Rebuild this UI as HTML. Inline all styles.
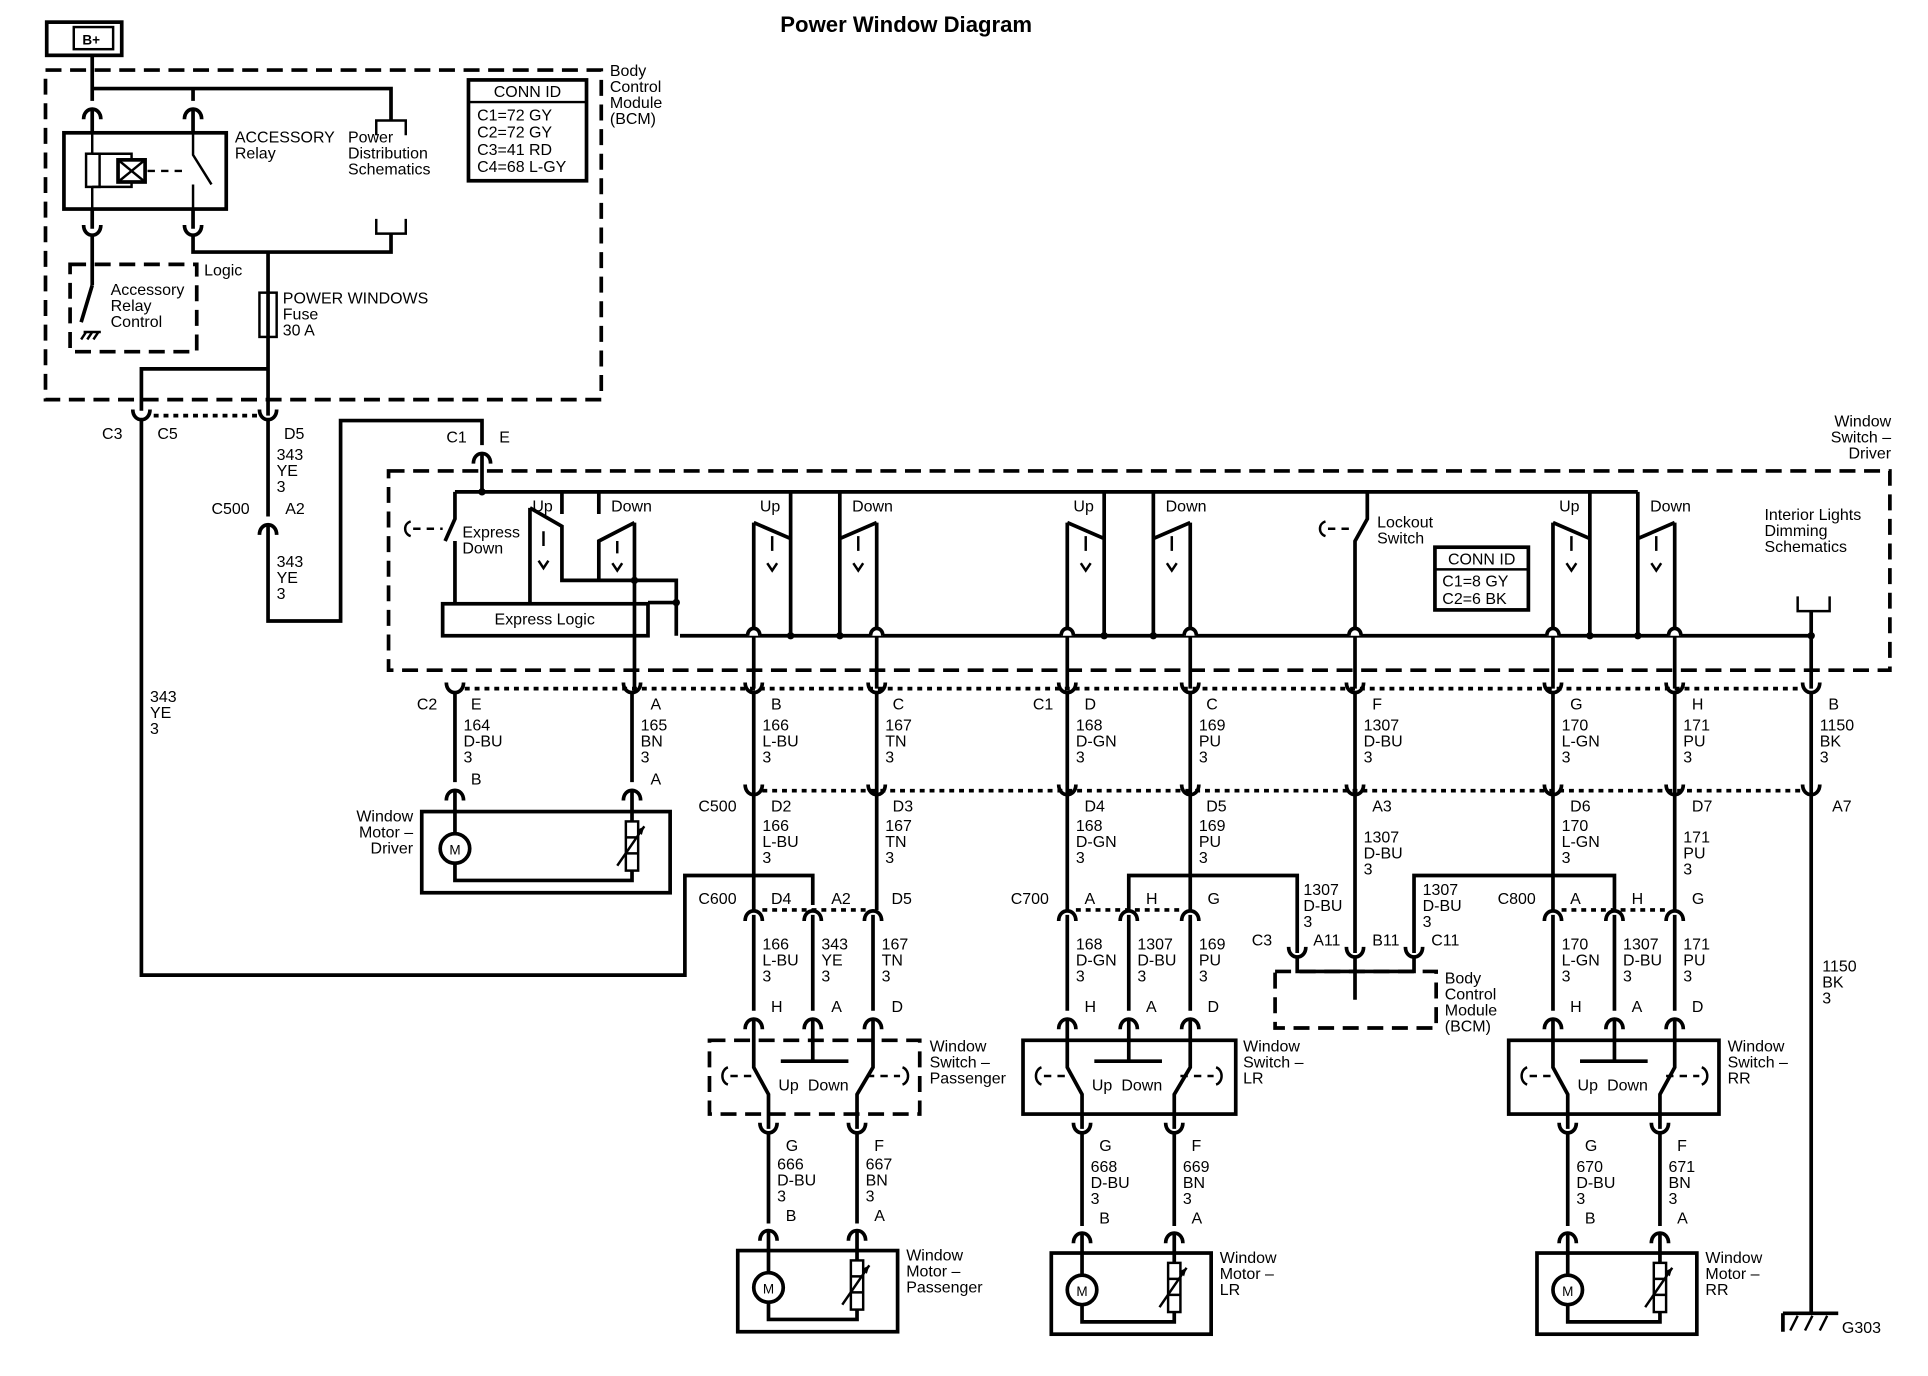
<!DOCTYPE html>
<html><head><meta charset="utf-8"><style>
html,body{margin:0;padding:0;background:#fff}
svg{display:block}
text{font-family:"Liberation Sans Narrow","Liberation Sans",sans-serif;font-size:13px;fill:#000}
.w{stroke:#000;stroke-width:3;fill:none}
.t{stroke:#000;stroke-width:2;fill:none}
.d{stroke:#000;stroke-width:3;fill:none;stroke-dasharray:13 7}
.dd{stroke:#000;stroke-width:3;fill:none;stroke-dasharray:4 4}
.sd{stroke:#000;stroke-width:2;fill:none;stroke-dasharray:6 5}
</style></head><body>
<svg width="1928" height="1376" viewBox="0 0 1568 1119" preserveAspectRatio="none" xmlns="http://www.w3.org/2000/svg">
<defs>
<path id="cu" d="M-7,-7 C-7,4 7,4 7,-7" stroke="#000" stroke-width="3" fill="none"/>
<path id="cn" d="M-7,7 C-7,-4 7,-4 7,7" stroke="#000" stroke-width="3" fill="none"/>
<path id="hop" d="M-5,0 C-5,-8 5,-8 5,0" stroke="#000" stroke-width="3" fill="#fff"/>
</defs>
<rect width="1568" height="1119" fill="#fff"/>
<text x="737" y="26" text-anchor="middle" style="font-size:18px;font-weight:bold;font-family:'Liberation Sans',sans-serif">Power Window Diagram</text>
<rect x="38" y="18" width="61" height="27" class="w"/>
<rect x="60" y="22" width="32" height="18" class="t"/>
<text x="67" y="36" style="font-size:11px;font-weight:bold">B+</text>
<path class="w" d="M75,45 V82"/>
<rect x="37" y="57" width="452" height="268" class="d"/>
<text x="496" y="62"><tspan x="496">Body</tspan><tspan x="496" dy="13">Control</tspan><tspan x="496" dy="13">Module</tspan><tspan x="496" dy="13">(BCM)</tspan></text>
<path class="w" d="M75,72 H318 V98 M157,72 V82"/>
<path class="t" d="M306,110 V98 H330 V110"/>
<path class="t" d="M306,178 V190 H330 V178"/>
<use href="#cn" x="75" y="90"/><use href="#cn" x="157" y="90"/>
<path class="w" d="M75,88 V108 M157,88 V108"/>
<rect x="52" y="108" width="132" height="62" class="w"/>
<path class="t" d="M75,108 V125 M75,152 V170 M75,125 H107 V130 M75,152 H107 V148"/>
<rect x="70" y="125" width="11" height="27" class="t"/>
<rect x="96" y="130" width="22" height="18" class="w"/>
<path class="t" d="M96,130 L118,148 M118,130 L96,148"/>
<path class="sd" d="M120,139 H150"/>
<path class="t" d="M157,108 V126 L172,150 M157,150 V170"/>
<text x="191" y="116"><tspan x="191">ACCESSORY</tspan><tspan x="191" dy="13">Relay</tspan></text>
<text x="283" y="116"><tspan x="283">Power</tspan><tspan x="283" dy="13">Distribution</tspan><tspan x="283" dy="13">Schematics</tspan></text>
<path class="w" d="M75,170 V186 M157,170 V186"/>
<use href="#cu" x="75" y="190"/><use href="#cu" x="157" y="190"/>
<path class="w" d="M75,192 V232 M157,192 V205 H318 V190 M218,205 V338"/>
<path class="w" d="M75,232 L66,262"/>
<path class="t" d="M68,270 H82 M70,270 L66,276 M75,270 L71,276 M80,270 L76,276"/>
<rect x="57" y="215" width="103" height="71" class="d"/>
<text x="166" y="224">Logic</text>
<text x="90" y="240"><tspan x="90">Accessory</tspan><tspan x="90" dy="13">Relay</tspan><tspan x="90" dy="13">Control</tspan></text>
<rect x="211" y="238" width="14" height="36" fill="#fff" class="t"/>
<text x="230" y="247"><tspan x="230">POWER WINDOWS</tspan><tspan x="230" dy="13">Fuse</tspan><tspan x="230" dy="13">30 A</tspan></text>
<path class="w" d="M218,300 H115 V334"/>
<rect x="381" y="65" width="96" height="82" class="w"/>
<path class="t" d="M381,83 H477"/>
<text x="429" y="79" text-anchor="middle">CONN ID</text>
<text x="388" y="98"><tspan x="388">C1=72 GY</tspan><tspan x="388" dy="14">C2=72 GY</tspan><tspan x="388" dy="14">C3=41 RD</tspan><tspan x="388" dy="14">C4=68 L-GY</tspan></text>
<use href="#cu" x="115" y="340"/><use href="#cu" x="218" y="340"/>
<path class="dd" d="M125,338 H210"/>
<text x="83" y="357">C3</text><text x="128" y="357">C5</text><text x="231" y="357">D5</text>
<path class="w" d="M115,342 V793 H557 V712 H661 V736"/>
<text x="122" y="571"><tspan x="122">343</tspan><tspan x="122" dy="13">YE</tspan><tspan x="122" dy="13">3</tspan></text>
<path class="w" d="M218,342 V420"/>
<text x="225" y="374"><tspan x="225">343</tspan><tspan x="225" dy="13">YE</tspan><tspan x="225" dy="13">3</tspan></text>
<use href="#cn" x="218" y="428"/>
<text x="172" y="418">C500</text><text x="232" y="418">A2</text>
<path class="w" d="M218,426 V505 H277 V342 H392 V362"/>
<text x="225" y="461"><tspan x="225">343</tspan><tspan x="225" dy="13">YE</tspan><tspan x="225" dy="13">3</tspan></text>
<use href="#cn" x="392" y="370"/>
<text x="363" y="360">C1</text><text x="406" y="360">E</text>
<rect x="316" y="383" width="1221" height="162" class="d"/>
<text x="1538" y="347" text-anchor="end"><tspan x="1538">Window</tspan><tspan x="1538" dy="13">Switch –</tspan><tspan x="1538" dy="13">Driver</tspan></text>
<path class="w" d="M392,368 V400 M370,400 H1332"/>
<circle cx="392" cy="400" r="3"/>
<path class="w" d="M370,400 V422 L362,440 M370,440 V491"/>
<path class="sd" d="M336,430 H360"/><path class="t" d="M334,424 C328,426 328,434 334,436"/>
<text x="376" y="437"><tspan x="376">Express</tspan><tspan x="376" dy="13">Down</tspan></text>
<rect x="360" y="491" width="167" height="26" class="w"/>
<text x="443" y="508" text-anchor="middle">Express Logic</text>
<path class="w" d="M457,400 V418 M487,400 V418"/>
<path class="w" d="M431,413 L457,428 V455 M431,413 V490"/>
<path class="w" d="M516,425 L487,440 V472 M516,425 V560"/>
<path class="t" d="M442,432 V444 M438,456 L442,462 L446,456 M502,440 V450 M498,458 L502,464 L506,458"/>
<path class="w" d="M457,455 V472 H550 V517 M527,490 H550"/>
<circle cx="550" cy="490" r="3"/><circle cx="516" cy="472" r="3"/>
<text x="433" y="416">Up</text><text x="497" y="416">Down</text>
<path class="w" d="M553,517 H1473"/>
<path class="w" d="M643,400 V517 M683,400 V517 M613,425 L643,438 M613,425 V560 M713,425 L683,438 M713,425 V560"/>
<path class="t" d="M628,436 V448 M624,458 L628,464 L632,458 M698,436 V448 M694,458 L698,464 L702,458"/>
<text x="618" y="416">Up</text><text x="693" y="416">Down</text>
<path class="w" d="M898,400 V517 M938,400 V517 M868,425 L898,438 M868,425 V560 M968,425 L938,438 M968,425 V560"/>
<path class="t" d="M883,436 V448 M879,458 L883,464 L887,458 M953,436 V448 M949,458 L953,464 L957,458"/>
<text x="873" y="416">Up</text><text x="948" y="416">Down</text>
<path class="w" d="M1293,400 V517 M1332,400 V517 M1263,425 L1293,438 M1263,425 V560 M1362,425 L1332,438 M1362,425 V560"/>
<path class="t" d="M1278,436 V448 M1274,458 L1278,464 L1282,458 M1347,436 V448 M1343,458 L1347,464 L1351,458"/>
<text x="1268" y="416">Up</text><text x="1342" y="416">Down</text>
<path class="w" d="M1112,400 V422 L1102,440 V560"/>
<path class="sd" d="M1080,430 H1100"/><path class="t" d="M1078,424 C1072,426 1072,434 1078,436"/>
<text x="1120" y="429"><tspan x="1120">Lockout</tspan><tspan x="1120" dy="13">Switch</tspan></text>
<rect x="1167" y="445" width="76" height="51" class="w"/>
<path class="t" d="M1167,463 H1243"/>
<text x="1205" y="459" text-anchor="middle">CONN ID</text>
<text x="1173" y="477"><tspan x="1173">C1=8 GY</tspan><tspan x="1173" dy="14">C2=6 BK</tspan></text>
<text x="1435" y="423"><tspan x="1435">Interior Lights</tspan><tspan x="1435" dy="13">Dimming</tspan><tspan x="1435" dy="13">Schematics</tspan></text>
<path class="t" d="M1462,485 V497 H1488 V485"/>
<path class="w" d="M1473,497 V560"/>
<circle cx="1473" cy="517" r="3"/><circle cx="643" cy="517" r="3"/><circle cx="683" cy="517" r="3"/><circle cx="898" cy="517" r="3"/><circle cx="938" cy="517" r="3"/><circle cx="1293" cy="517" r="3"/><circle cx="1332" cy="517" r="3"/>
<use href="#hop" x="613" y="517"/><use href="#hop" x="713" y="517"/><use href="#hop" x="868" y="517"/><use href="#hop" x="968" y="517"/><use href="#hop" x="1102" y="517"/><use href="#hop" x="1263" y="517"/><use href="#hop" x="1362" y="517"/>
<path class="dd" d="M378,560 H1466"/>
<use href="#cu" x="370" y="562"/><use href="#cu" x="514" y="562"/><use href="#cu" x="613" y="562"/><use href="#cu" x="713" y="562"/><use href="#cu" x="868" y="562"/><use href="#cu" x="968" y="562"/><use href="#cu" x="1102" y="562"/><use href="#cu" x="1263" y="562"/><use href="#cu" x="1362" y="562"/><use href="#cu" x="1473" y="562"/>
<text x="339" y="577">C2</text><text x="840" y="577">C1</text>
<text x="383" y="577">E</text><text x="529" y="577">A</text><text x="627" y="577">B</text><text x="726" y="577">C</text><text x="882" y="577">D</text><text x="981" y="577">C</text><text x="1116" y="577">F</text><text x="1277" y="577">G</text><text x="1376" y="577">H</text><text x="1487" y="577">B</text>
<text y="594"><tspan x="377">164</tspan><tspan x="377" dy="13">D-BU</tspan><tspan x="377" dy="13">3</tspan></text>
<text y="594"><tspan x="521">165</tspan><tspan x="521" dy="13">BN</tspan><tspan x="521" dy="13">3</tspan></text>
<text y="594"><tspan x="620">166</tspan><tspan x="620" dy="13">L-BU</tspan><tspan x="620" dy="13">3</tspan></text>
<text y="594"><tspan x="720">167</tspan><tspan x="720" dy="13">TN</tspan><tspan x="720" dy="13">3</tspan></text>
<text y="594"><tspan x="875">168</tspan><tspan x="875" dy="13">D-GN</tspan><tspan x="875" dy="13">3</tspan></text>
<text y="594"><tspan x="975">169</tspan><tspan x="975" dy="13">PU</tspan><tspan x="975" dy="13">3</tspan></text>
<text y="594"><tspan x="1109">1307</tspan><tspan x="1109" dy="13">D-BU</tspan><tspan x="1109" dy="13">3</tspan></text>
<text y="594"><tspan x="1270">170</tspan><tspan x="1270" dy="13">L-GN</tspan><tspan x="1270" dy="13">3</tspan></text>
<text y="594"><tspan x="1369">171</tspan><tspan x="1369" dy="13">PU</tspan><tspan x="1369" dy="13">3</tspan></text>
<text y="594"><tspan x="1480">1150</tspan><tspan x="1480" dy="13">BK</tspan><tspan x="1480" dy="13">3</tspan></text>
<path class="w" d="M370,564 V636 M514,564 V636"/>
<use href="#cn" x="370" y="644"/><use href="#cn" x="514" y="644"/>
<text x="383" y="638">B</text><text x="529" y="638">A</text>
<text x="336" y="668" text-anchor="end"><tspan x="336">Window</tspan><tspan x="336" dy="13">Motor –</tspan><tspan x="336" dy="13">Driver</tspan></text>
<rect x="343" y="660" width="202" height="66" class="w"/>
<path class="w" d="M370,642 V678 M370,702 V716 H514 V708 M514,642 V668"/>
<circle cx="370" cy="690" r="12" class="w"/><text x="370" y="695" text-anchor="middle" style="font-size:11px">M</text>
<rect x="509" y="668" width="10" height="40" class="t"/><path class="t" d="M509,681 H519 M509,694 H519 M502,704 L524,672"/><path d="M524,672 L518,675 L522,679Z"/>
<path class="dd" d="M620,643 H1466"/>
<use href="#cu" x="613" y="645"/><use href="#cu" x="713" y="645"/><use href="#cu" x="868" y="645"/><use href="#cu" x="968" y="645"/><use href="#cu" x="1102" y="645"/><use href="#cu" x="1263" y="645"/><use href="#cu" x="1362" y="645"/><use href="#cu" x="1473" y="645"/>
<path class="w" d="M613,562 V740 M713,562 V740 M868,562 V740 M968,562 V740 M1102,562 V775 M1263,562 V740 M1362,562 V740 M1473,562 V1068"/>
<text x="568" y="660">C500</text>
<text x="627" y="660">D2</text><text x="726" y="660">D3</text><text x="882" y="660">D4</text><text x="981" y="660">D5</text><text x="1116" y="660">A3</text><text x="1277" y="660">D6</text><text x="1376" y="660">D7</text><text x="1490" y="660">A7</text>
<text y="676"><tspan x="620">166</tspan><tspan x="620" dy="13">L-BU</tspan><tspan x="620" dy="13">3</tspan></text>
<text y="676"><tspan x="720">167</tspan><tspan x="720" dy="13">TN</tspan><tspan x="720" dy="13">3</tspan></text>
<text y="676"><tspan x="875">168</tspan><tspan x="875" dy="13">D-GN</tspan><tspan x="875" dy="13">3</tspan></text>
<text y="676"><tspan x="975">169</tspan><tspan x="975" dy="13">PU</tspan><tspan x="975" dy="13">3</tspan></text>
<text y="685"><tspan x="1109">1307</tspan><tspan x="1109" dy="13">D-BU</tspan><tspan x="1109" dy="13">3</tspan></text>
<text y="676"><tspan x="1270">170</tspan><tspan x="1270" dy="13">L-GN</tspan><tspan x="1270" dy="13">3</tspan></text>
<text y="685"><tspan x="1369">171</tspan><tspan x="1369" dy="13">PU</tspan><tspan x="1369" dy="13">3</tspan></text>
<text y="790"><tspan x="1482">1150</tspan><tspan x="1482" dy="13">BK</tspan><tspan x="1482" dy="13">3</tspan></text>
<path class="w" d="M918,740 V712 H1055 V775 M1150,775 V712 H1313 V740"/>
<path class="dd" d="M620,740 H706 M875,740 H962 M1270,740 H1356"/>
<use href="#cn" x="613" y="742"/><use href="#cn" x="661" y="742"/><use href="#cn" x="710" y="742"/>
<use href="#cn" x="868" y="742"/><use href="#cn" x="918" y="742"/><use href="#cn" x="968" y="742"/>
<use href="#cn" x="1263" y="742"/><use href="#cn" x="1313" y="742"/><use href="#cn" x="1362" y="742"/>
<text x="568" y="735">C600</text><text x="627" y="735">D4</text><text x="676" y="735">A2</text><text x="725" y="735">D5</text>
<text x="822" y="735">C700</text><text x="882" y="735">A</text><text x="932" y="735">H</text><text x="982" y="735">G</text>
<text x="1218" y="735">C800</text><text x="1277" y="735">A</text><text x="1327" y="735">H</text><text x="1376" y="735">G</text>
<text y="728"><tspan x="1060">1307</tspan><tspan x="1060" dy="13">D-BU</tspan><tspan x="1060" dy="13">3</tspan></text>
<text y="728"><tspan x="1157">1307</tspan><tspan x="1157" dy="13">D-BU</tspan><tspan x="1157" dy="13">3</tspan></text>
<text x="1018" y="769">C3</text><text x="1068" y="769">A11</text><text x="1116" y="769">B11</text><text x="1164" y="769">C11</text>
<use href="#cu" x="1055" y="777"/><use href="#cu" x="1102" y="777"/><use href="#cu" x="1150" y="777"/>
<path class="w" d="M1055,779 V790 H1150 V779 M1102,779 V813"/>
<rect x="1037" y="790" width="131" height="46" class="d"/>
<text x="1175" y="800"><tspan x="1175">Body</tspan><tspan x="1175" dy="13">Control</tspan><tspan x="1175" dy="13">Module</tspan><tspan x="1175" dy="13">(BCM)</tspan></text>
<path class="w" d="M613,744 V822 M661,744 V822 M710,744 V822 M868,744 V822 M918,744 V822 M968,744 V822 M1263,744 V822 M1313,744 V822 M1362,744 V822"/>
<text y="772"><tspan x="620">166</tspan><tspan x="620" dy="13">L-BU</tspan><tspan x="620" dy="13">3</tspan></text>
<text y="772"><tspan x="668">343</tspan><tspan x="668" dy="13">YE</tspan><tspan x="668" dy="13">3</tspan></text>
<text y="772"><tspan x="717">167</tspan><tspan x="717" dy="13">TN</tspan><tspan x="717" dy="13">3</tspan></text>
<text y="772"><tspan x="875">168</tspan><tspan x="875" dy="13">D-GN</tspan><tspan x="875" dy="13">3</tspan></text>
<text y="772"><tspan x="925">1307</tspan><tspan x="925" dy="13">D-BU</tspan><tspan x="925" dy="13">3</tspan></text>
<text y="772"><tspan x="975">169</tspan><tspan x="975" dy="13">PU</tspan><tspan x="975" dy="13">3</tspan></text>
<text y="772"><tspan x="1270">170</tspan><tspan x="1270" dy="13">L-GN</tspan><tspan x="1270" dy="13">3</tspan></text>
<text y="772"><tspan x="1320">1307</tspan><tspan x="1320" dy="13">D-BU</tspan><tspan x="1320" dy="13">3</tspan></text>
<text y="772"><tspan x="1369">171</tspan><tspan x="1369" dy="13">PU</tspan><tspan x="1369" dy="13">3</tspan></text>
<use href="#cn" x="613" y="830"/><use href="#cn" x="661" y="830"/><use href="#cn" x="710" y="830"/>
<use href="#cn" x="868" y="830"/><use href="#cn" x="918" y="830"/><use href="#cn" x="968" y="830"/>
<use href="#cn" x="1263" y="830"/><use href="#cn" x="1313" y="830"/><use href="#cn" x="1362" y="830"/>
<text x="627" y="823">H</text><text x="676" y="823">A</text><text x="725" y="823">D</text>
<text x="882" y="823">H</text><text x="932" y="823">A</text><text x="982" y="823">D</text>
<text x="1277" y="823">H</text><text x="1327" y="823">A</text><text x="1376" y="823">D</text>
<rect x="577" y="846" width="171" height="60" class="d"/>
<rect x="832" y="846" width="173" height="60" class="w"/>
<rect x="1227" y="846" width="171" height="60" class="w"/>
<path class="w" d="M613,828 V868 L625,890 V918 M710,828 V868 L697,890 V918 M661,828 V863 M635,863 H690"/>
<path class="sd" d="M594,875 H618 M705,875 H732"/><path class="t" d="M592,868 C586,870 586,880 592,882 M734,868 C740,870 740,880 734,882"/>
<text x="633" y="887">Up</text><text x="657" y="887">Down</text>
<path class="w" d="M868,828 V868 L880,890 V918 M968,828 V868 L955,890 V918 M918,828 V863 M890,863 H945"/>
<path class="sd" d="M849,875 H873 M960,875 H987"/><path class="t" d="M847,868 C841,870 841,880 847,882 M989,868 C995,870 995,880 989,882"/>
<text x="888" y="887">Up</text><text x="912" y="887">Down</text>
<path class="w" d="M1263,828 V868 L1275,890 V918 M1362,828 V868 L1350,890 V918 M1313,828 V863 M1285,863 H1340"/>
<path class="sd" d="M1244,875 H1268 M1355,875 H1382"/><path class="t" d="M1242,868 C1236,870 1236,880 1242,882 M1384,868 C1390,870 1390,880 1384,882"/>
<text x="1283" y="887">Up</text><text x="1307" y="887">Down</text>
<text y="855"><tspan x="756">Window</tspan><tspan x="756" dy="13">Switch –</tspan><tspan x="756" dy="13">Passenger</tspan></text>
<text y="855"><tspan x="1011">Window</tspan><tspan x="1011" dy="13">Switch –</tspan><tspan x="1011" dy="13">LR</tspan></text>
<text y="855"><tspan x="1405">Window</tspan><tspan x="1405" dy="13">Switch –</tspan><tspan x="1405" dy="13">RR</tspan></text>
<use href="#cu" x="625" y="920"/><use href="#cu" x="697" y="920"/><use href="#cu" x="880" y="920"/><use href="#cu" x="955" y="920"/><use href="#cu" x="1275" y="920"/><use href="#cu" x="1350" y="920"/>
<text x="639" y="936">G</text><text x="711" y="936">F</text><text x="894" y="936">G</text><text x="969" y="936">F</text><text x="1289" y="936">G</text><text x="1364" y="936">F</text>
<text y="951"><tspan x="632">666</tspan><tspan x="632" dy="13">D-BU</tspan><tspan x="632" dy="13">3</tspan></text>
<text y="951"><tspan x="704">667</tspan><tspan x="704" dy="13">BN</tspan><tspan x="704" dy="13">3</tspan></text>
<text y="953"><tspan x="887">668</tspan><tspan x="887" dy="13">D-BU</tspan><tspan x="887" dy="13">3</tspan></text>
<text y="953"><tspan x="962">669</tspan><tspan x="962" dy="13">BN</tspan><tspan x="962" dy="13">3</tspan></text>
<text y="953"><tspan x="1282">670</tspan><tspan x="1282" dy="13">D-BU</tspan><tspan x="1282" dy="13">3</tspan></text>
<text y="953"><tspan x="1357">671</tspan><tspan x="1357" dy="13">BN</tspan><tspan x="1357" dy="13">3</tspan></text>
<path class="w" d="M625,922 V995 M697,922 V995 M880,922 V997 M955,922 V997 M1275,922 V997 M1350,922 V997"/>
<use href="#cn" x="625" y="1002"/><use href="#cn" x="697" y="1002"/><use href="#cn" x="880" y="1004"/><use href="#cn" x="955" y="1004"/><use href="#cn" x="1275" y="1004"/><use href="#cn" x="1350" y="1004"/>
<text x="639" y="993">B</text><text x="711" y="993">A</text><text x="894" y="995">B</text><text x="969" y="995">A</text><text x="1289" y="995">B</text><text x="1364" y="995">A</text>
<rect x="600" y="1017" width="130" height="66" class="w"/>
<path class="w" d="M625,1000 V1035 M625,1059 V1073 H697 V1065 M697,1000 V1025"/>
<circle cx="625" cy="1047" r="12" class="w"/><text x="625" y="1052" text-anchor="middle" style="font-size:11px">M</text>
<rect x="692" y="1025" width="10" height="40" class="t"/><path class="t" d="M692,1038 H702 M692,1051 H702 M685,1061 L707,1029"/><path d="M707,1029 L701,1032 L705,1036Z"/>
<rect x="855" y="1019" width="130" height="66" class="w"/>
<path class="w" d="M880,1002 V1037 M880,1061 V1075 H955 V1067 M955,1002 V1027"/>
<circle cx="880" cy="1049" r="12" class="w"/><text x="880" y="1054" text-anchor="middle" style="font-size:11px">M</text>
<rect x="950" y="1027" width="10" height="40" class="t"/><path class="t" d="M950,1040 H960 M950,1053 H960 M943,1063 L965,1031"/><path d="M965,1031 L959,1034 L963,1038Z"/>
<rect x="1250" y="1019" width="130" height="66" class="w"/>
<path class="w" d="M1275,1002 V1037 M1275,1061 V1075 H1350 V1067 M1350,1002 V1027"/>
<circle cx="1275" cy="1049" r="12" class="w"/><text x="1275" y="1054" text-anchor="middle" style="font-size:11px">M</text>
<rect x="1345" y="1027" width="10" height="40" class="t"/><path class="t" d="M1345,1040 H1355 M1345,1053 H1355 M1338,1063 L1360,1031"/><path d="M1360,1031 L1354,1034 L1358,1038Z"/>
<text y="1025"><tspan x="737">Window</tspan><tspan x="737" dy="13">Motor –</tspan><tspan x="737" dy="13">Passenger</tspan></text>
<text y="1027"><tspan x="992">Window</tspan><tspan x="992" dy="13">Motor –</tspan><tspan x="992" dy="13">LR</tspan></text>
<text y="1027"><tspan x="1387">Window</tspan><tspan x="1387" dy="13">Motor –</tspan><tspan x="1387" dy="13">RR</tspan></text>
<path class="w" d="M1450,1068 H1495 M1450,1068 V1083"/>
<path class="t" d="M1462,1070 L1456,1082 M1474,1070 L1468,1082 M1486,1070 L1480,1082"/>
<text x="1498" y="1084">G303</text>
</svg>
</body></html>
